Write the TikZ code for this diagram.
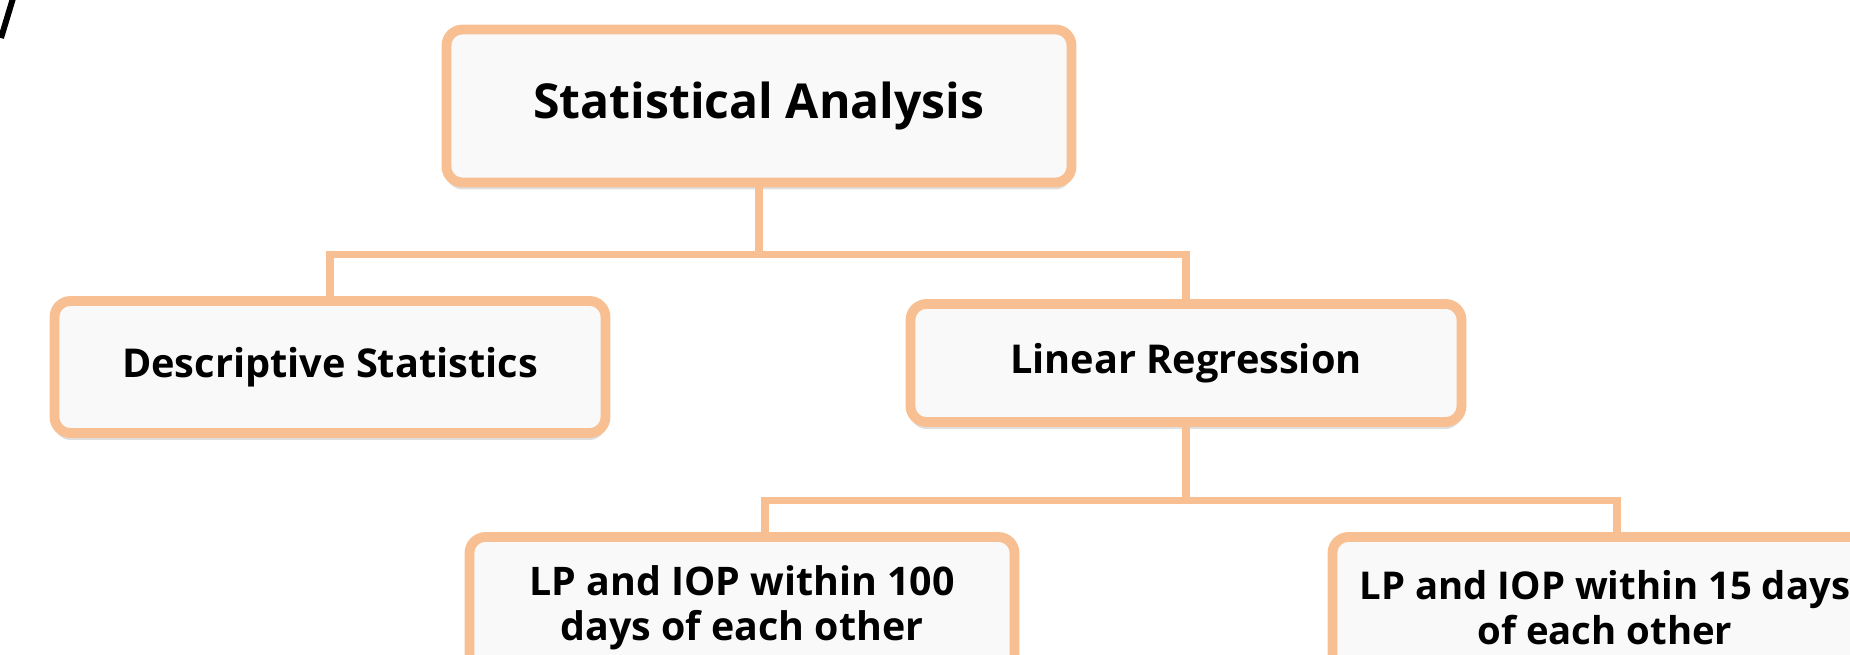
\documentclass[tikz,border=0pt]{standalone}
\usepackage{fontspec}
\setmainfont{Open Sans}
\usetikzlibrary{shadows}
\definecolor{peach}{RGB}{248,192,146}
\definecolor{boxfill}{RGB}{249,249,249}
\begin{document}
\begin{tikzpicture}[x=0.1mm, y=-0.1mm,
            box/.style={draw=peach, line width=2.8pt, fill=boxfill, rounded corners=1.6mm,
                align=center, font=\bfseries\fontsize{11.3}{12.8}\selectfont,
                drop shadow={shadow xshift=0mm, shadow yshift=-0.7mm, opacity=0.25}},
            link/.style={draw=peach, line width=2pt}]
            \useasboundingbox (0,0) rectangle (1850,655);
            \clip (0,0) rectangle (1850,655);
            \draw[line width=1.7pt] (14,-5) -- (1,38);
            \node[box, minimum width=62.5mm, minimum height=15.3mm, font=\bfseries\fontsize{13.7}{15}\selectfont] (sa) at (759,106) {Statistical Analysis};
            \node[box, minimum width=55.1mm, minimum height=13.2mm] (ds) at (330,367) {Descriptive Statistics};
            \node[box, minimum width=55.1mm, minimum height=11.8mm] (lr) at (1186,363) {Linear Regression};
            \node[box, minimum width=54.5mm, minimum height=14.2mm, font=\bfseries\fontsize{11.2}{12.8}\selectfont] (hd) at (742,608) {LP and IOP within 100\\days of each other};
            \node[box, minimum width=54.5mm, minimum height=14.2mm, font=\bfseries\fontsize{10.9}{12.8}\selectfont] (fd) at (1605,608) {LP and IOP within 15 days\\of each other};
            \draw[link] (sa.south) -- ++(0,67) coordinate (j1);
            \draw[link] (j1) -| (ds.north);
            \draw[link] (j1) -| (lr.north);
            \draw[link] (lr.south) -- ++(0,74) coordinate (j2);
            \draw[link] (j2) -| ([xshift=2.3mm]hd.north);
            \draw[link] (j2) -| ([xshift=1.2mm]fd.north);
\end{tikzpicture}
\end{document}
